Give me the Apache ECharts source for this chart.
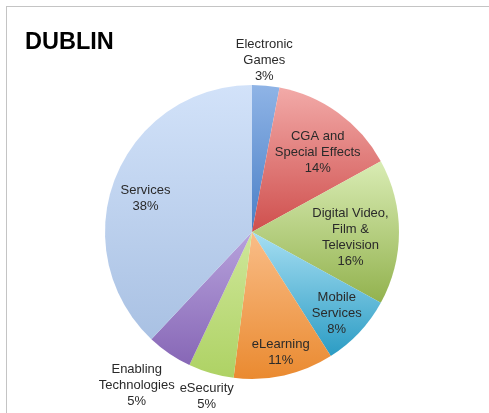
<!DOCTYPE html>
<html>
<head>
<meta charset="utf-8">
<script src="https://cdn.jsdelivr.net/npm/echarts@6/dist/echarts.min.js"></script>
<style>
html, body { margin: 0; padding: 0; background: #fff; }
#main { position: absolute; left: 0; top: 0; width: 489px; height: 413px; }
#frame {
    position: absolute; left: 6px; top: 6px; width: 490px; height: 420px;
    border-top: 1px solid #c4c4c4; border-left: 1px solid #c4c4c4;
    pointer-events: none;
}
</style>
</head>
<body>
<div id="main"></div>
<div id="frame"></div>
<script>
// chart data
const categories = ['Electronic\nGames', 'CGA and\nSpecial Effects', 'Digital Video,\nFilm &\nTelevision',
    'Mobile\nServices', 'eLearning', 'eSecurity', 'Enabling\nTechnologies', 'Services']
const shares = [3, 14, 16, 8, 11, 5, 5, 38]
// top / bottom colour of every slice gradient
const topColors = ['#8fb4e6', '#f2aaa8', '#d9ecb4', '#a6def2', '#f9bd88', '#cfe79a', '#b7a2dc', '#d2e2f9']
const bottomColors = ['#4a7fc6', '#cf4f4d', '#92b24e', '#2b9cc4', '#ea8a30', '#aed264', '#8767b6', '#a9c1e3']
// labels that sit outside the pie
const outsideNames = ['Electronic\nGames', 'eSecurity', 'Enabling\nTechnologies']
// small nudges so the labels land where the original put them
const labelNudge = [[-4, 1], [-1, 12], [-15, 5], [2, 4], [4, 10], [3, -2], [-18, 10], [-1, 8]]

const myEcharts = echarts.init(document.getElementById('main'))

const pieData = categories.map(function (name, i) {
    return {
        name: name,
        value: shares[i],
        itemStyle: {
            color: new echarts.graphic.LinearGradient(0, 0, 0, 1, [
                { offset: 0, color: topColors[i] },
                { offset: 1, color: bottomColors[i] }
            ])
        }
    }
})

function labelData(showInside) {
    return categories.map(function (name, i) {
        const outside = outsideNames.indexOf(name) >= 0
        return {
            name: name,
            value: shares[i],
            label: { show: outside ? !showInside : showInside, offset: labelNudge[i] }
        }
    })
}

const labelStyle = {
    position: 'inside',
    formatter: '{b}\n{c}%',
    color: '#2a2a2a',
    fontSize: 13,
    lineHeight: 16,
    fontFamily: 'Liberation Sans, Arial, sans-serif'
}

const clear = { color: 'rgba(0,0,0,0)', borderWidth: 0 }

const option = {
    animation: false,
    title: {
        text: 'DUBLIN',
        left: 20,
        top: 26,
        textStyle: { fontSize: 23.5, fontWeight: 'bold', color: '#000', fontFamily: 'Liberation Sans, Arial, sans-serif' }
    },
    series: [
        {
            type: 'pie',
            center: [252, 232],
            radius: [0, 147],
            startAngle: 90,
            clockwise: true,
            silent: true,
            label: { show: false },
            labelLine: { show: false },
            itemStyle: { borderWidth: 0 },
            data: pieData
        },
        {
            // labels inside the slices
            type: 'pie',
            center: [252, 232],
            radius: [74, 147],
            startAngle: 90,
            silent: true,
            avoidLabelOverlap: false,
            itemStyle: clear,
            labelLine: { show: false },
            labelLayout: { hideOverlap: false },
            label: labelStyle,
            data: labelData(true)
        },
        {
            // labels below / above the pie
            type: 'pie',
            center: [252, 232],
            radius: [150, 190],
            startAngle: 90,
            silent: true,
            avoidLabelOverlap: false,
            itemStyle: clear,
            labelLine: { show: false },
            labelLayout: { hideOverlap: false },
            label: labelStyle,
            data: labelData(false)
        }
    ]
}
myEcharts.setOption(option)
</script>
</body>
</html>
